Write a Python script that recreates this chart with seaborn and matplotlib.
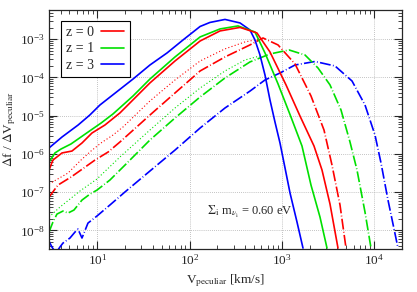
import numpy as np
import pandas as pd
import matplotlib
matplotlib.use("Agg")
import matplotlib.pyplot as plt
import seaborn as sns
from matplotlib.ticker import LogLocator, NullFormatter

# ---- data (V in km/s, f = df/dV) ----
v_z3 = [3.0, 4.15, 6.2, 8.3, 10.7, 24.4, 37.2, 57, 85, 130, 166, 242, 352, 451, 511,
        579, 656, 743, 842, 954, 1081, 1225, 1458, 1693]
f_z3 = [1.43e-6, 2.77e-6, 5.7e-6, 1.04e-5, 1.91e-5, 9.1e-5, 2.12e-4, 4.38e-4, 9.6e-4,
        2.16e-3, 2.75e-3, 3.3e-3, 2.67e-3, 1.75e-3, 9.6e-4, 3.88e-4, 1.16e-4, 2.58e-5,
        6.8e-6, 1.93e-6, 4.3e-7, 9.5e-8, 1.65e-8, 3.44e-9]

v_z1 = [3.0, 3.48, 4.04, 5.19, 6.66, 8.55, 10.97, 14.8, 24.4, 37.2, 69.5, 130, 213.5,
        334.5, 511, 656, 908, 1255, 1651, 2067, 2587, 3081]
f_z1 = [6.1e-7, 1.06e-6, 1.34e-6, 1.82e-6, 2.77e-6, 4.22e-6, 6.4e-6, 1.11e-5, 3.28e-5,
        9.1e-5, 3.44e-4, 1.15e-3, 1.86e-3, 2.23e-3, 1.55e-3, 4.38e-4, 6.8e-5, 9.2e-6,
        1.61e-6, 1.53e-7, 2.23e-8, 3.44e-9]

v_z0 = [3.0, 3.31, 4.15, 5.32, 6.83, 8.76, 12.1, 17.6, 37.2, 69.5, 130, 213.5, 351.6,
        537, 743, 1108, 1571, 2228, 2720, 3320, 4053]
f_z0 = [3.79e-7, 6.9e-7, 1.06e-6, 1.19e-6, 1.93e-6, 3.52e-6, 5.7e-6, 1.18e-5, 7.2e-5,
        2.7e-4, 9.0e-4, 1.65e-3, 2.04e-3, 1.46e-3, 4.65e-4, 6.4e-5, 9.8e-6, 1.61e-6,
        3.79e-7, 4.9e-8, 3.44e-9]

v_z0_dot = [3.0, 4.82, 6.66, 8.55, 10.97, 14.8, 19.0, 37.2, 69.5, 130, 241.8, 398, 579]
f_z0_dot = [1.63e-7, 3.16e-7, 6.9e-7, 1.19e-6, 1.93e-6, 3.12e-6, 5.06e-6, 2.43e-5,
            8.6e-5, 2.7e-4, 5.6e-4, 8.5e-4, 1.02e-3]

v_z0_dash = [3.0, 3.75, 5.19, 6.66, 9.44, 13.1, 17.6, 37.2, 69.5, 130, 241.8, 451, 624,
             908, 1387, 2067, 2859, 3490, 4262, 4950]
f_z0_dash = [7.4e-8, 1.53e-7, 2.48e-7, 3.79e-7, 6.9e-7, 1.12e-6, 2.05e-6, 1.04e-5,
             3.93e-5, 1.48e-4, 3.44e-4, 7.1e-4, 1.08e-3, 7.1e-4, 2.26e-4, 3.28e-5,
             4.22e-6, 5.1e-7, 4.6e-8, 3.44e-9]

v_z1_dot = [3.0, 3.94, 5.06, 6.49, 9.92, 17.6, 37.2, 69.5, 130, 241.8, 398, 579]
f_z1_dot = [2.23e-8, 4.07e-8, 6.6e-8, 1.07e-7, 2.2e-7, 8.3e-7, 4.22e-6, 1.59e-5,
            5.3e-5, 1.48e-4, 2.87e-4, 3.66e-4]

v_z1_dash = [3.0, 3.31, 3.66, 4.25, 4.82, 5.59, 6.83, 8.34, 9.92, 13.7, 19.95, 37.2,
             69.5, 130, 241.8, 451, 743, 1194, 1779, 2462, 3320, 4369, 5469, 6512,
             7950, 9233]
f_z1_dash = [9.0e-9, 1.65e-8, 2.67e-8, 3.2e-8, 2.84e-8, 3.4e-8, 6.2e-8, 8.9e-8,
             1.13e-7, 2.07e-7, 5.1e-7, 2.31e-6, 8.7e-6, 3.09e-5, 9.7e-5, 2.55e-4,
             4.12e-4, 5.25e-4, 3.88e-4, 1.77e-4, 6.4e-5, 1.41e-5, 2.05e-6, 3.79e-7,
             3.0e-8, 3.44e-9]

v_z3_dash = [3.0, 3.23, 3.57, 3.94, 4.25, 5.06, 5.73, 6.18, 6.83, 7.18, 7.93, 9.92,
             13.7, 19.95, 37.2, 69.5, 130, 241.8, 451, 656, 954, 1387, 2284, 3762,
             5748, 7950, 10200, 11850, 14110, 18110]
f_z3_dash = [5.2e-9, 3.66e-9, 2.55e-9, 3.66e-9, 4.65e-9, 6.3e-9, 9.0e-9, 1.08e-8,
             6.3e-9, 8.5e-9, 1.55e-8, 2.37e-8, 4.6e-8, 1.01e-7, 3.57e-7, 1.26e-6,
             4.76e-6, 1.59e-5, 4.4e-5, 8.6e-5, 1.31e-4, 2.12e-4, 2.62e-4, 2.0e-4,
             8.1e-5, 1.91e-5, 3.12e-6, 5.8e-7, 6.2e-8, 3.44e-9]

x_ticks = [1e1, 1e2, 1e3, 1e4]
y_ticks = [1e-8, 1e-7, 1e-6, 1e-5, 1e-4, 1e-3]
legend_labels = ["z = 0", "z = 1", "z = 3"]

RED, GREEN, BLUE = "#ff0000", "#00e000", "#0000ff"

sns.set_style("ticks")
plt.rcParams["font.family"] = ["Liberation Serif", "DejaVu Serif"]
plt.rcParams["mathtext.fontset"] = "stix"

fig, ax = plt.subplots(figsize=(4.17, 2.92), dpi=100)
fig.subplots_adjust(left=0.1175, right=0.964, top=0.966, bottom=0.147)

dash = (0, (6.5, 1.4, 0.5, 1.4))
dot = (0, (1, 2))

def draw(v, f, color, ls, lw):
    d = pd.DataFrame({"v": v, "f": f})
    sns.lineplot(data=d, x="v", y="f", ax=ax, color=color, linestyle=ls, linewidth=lw,
                 estimator=None, sort=False)

draw(v_z3_dash, f_z3_dash, BLUE, dash, 1.2)
draw(v_z1_dash, f_z1_dash, GREEN, dash, 1.2)
draw(v_z1_dot, f_z1_dot, GREEN, dot, 0.8)
draw(v_z0_dash, f_z0_dash, RED, dash, 1.2)
draw(v_z0_dot, f_z0_dot, RED, dot, 0.8)
draw(v_z3, f_z3, BLUE, "-", 1.2)
draw(v_z1, f_z1, GREEN, "-", 1.2)
draw(v_z0, f_z0, RED, "-", 1.2)

ax.set_xscale("log")
ax.set_yscale("log")
ax.set_xticks(x_ticks)
ax.set_yticks(y_ticks)
ax.yaxis.set_minor_locator(LogLocator(base=10, subs=np.arange(2, 10), numticks=20))
ax.xaxis.set_minor_locator(LogLocator(base=10, subs=np.arange(2, 10), numticks=20))
ax.xaxis.set_minor_formatter(NullFormatter())
ax.yaxis.set_minor_formatter(NullFormatter())
ax.set_xlim(3.0, 2.0e4)
ax.set_ylim(3.24e-9, 5.85e-3)

ax.tick_params(which="both", direction="in", top=True, right=True, labelsize=9.5,
               pad=3)
ax.tick_params(which="major", length=6, width=0.8)
ax.tick_params(which="minor", length=3, width=0.6)
ax.grid(True, which="major", color="#b0b0b0", linestyle=(0, (1, 1.5)), linewidth=0.6)
for s in ax.spines.values():
    s.set_linewidth(0.9)

ax.set_xlabel(r"V$_{\rm peculiar}$ [km/s]", fontsize=9.5)
ax.xaxis.set_label_coords(0.5, -0.097)
ax.set_ylabel(r"$\Delta$f / $\Delta$V$_{\rm peculiar}$", fontsize=9.5)
ax.yaxis.set_label_coords(-0.088, 0.5)

ax.text(0.448, 0.155, r"$\Sigma_{\rm i}$ m$_{\nu_{\rm i}}$ = 0.60 eV", transform=ax.transAxes,
        fontsize=9, ha="left", va="center")

handles = ax.get_lines()[-3:]
handles = [handles[2], handles[1], handles[0]]
leg = ax.legend(handles, legend_labels, loc="upper left", bbox_to_anchor=(0.034, 0.955),
                borderaxespad=0, markerfirst=False, fontsize=10, handlelength=1.7,
                handletextpad=0.45, labelspacing=0.25, borderpad=0.38, fancybox=False,
                framealpha=1, edgecolor="black")
leg.get_frame().set_linewidth(0.8)

fig.savefig("out.png", dpi=100)
